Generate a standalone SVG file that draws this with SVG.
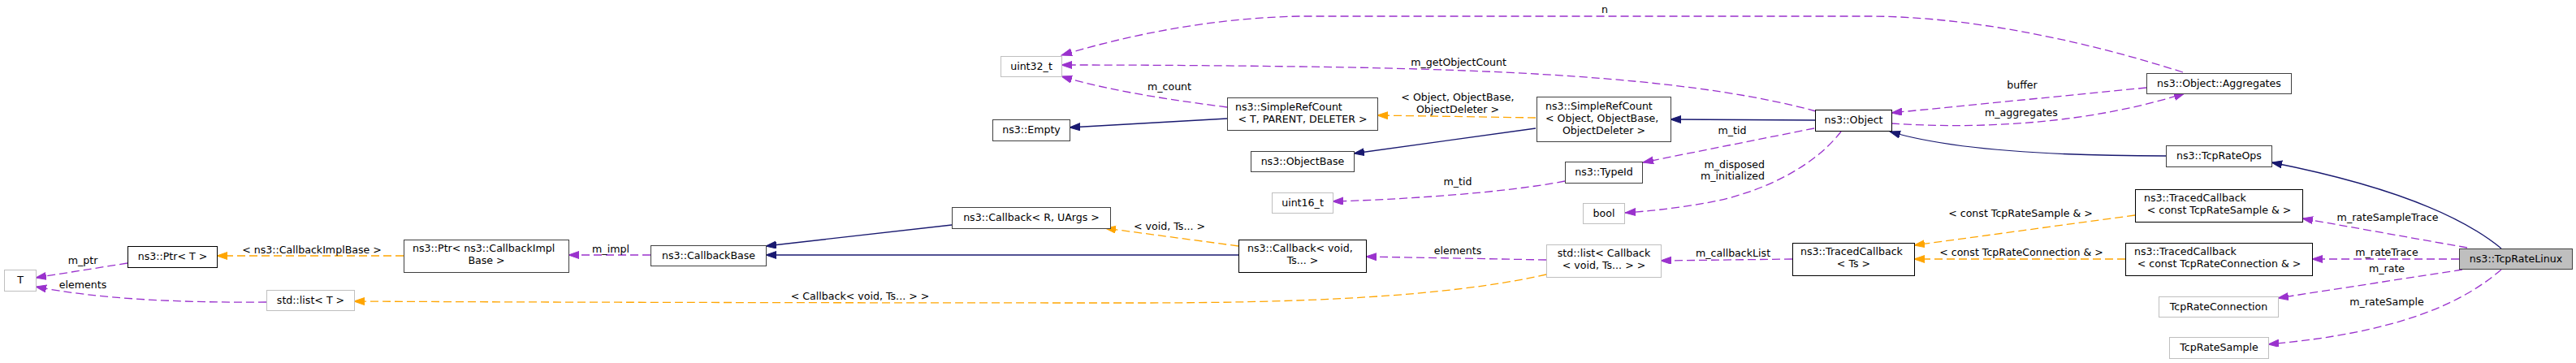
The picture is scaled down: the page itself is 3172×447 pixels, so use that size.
<svg xmlns="http://www.w3.org/2000/svg" width="3172" height="447" viewBox="0 0 3172 447">
<style>
text{font-family:"DejaVu Sans","Liberation Sans",sans-serif;font-size:12.6px;fill:#000}
.m{text-anchor:middle}
.e{text-anchor:end}
.n{fill:#fff;stroke:#000;stroke-width:1}
.g{fill:#fff;stroke:#404040;stroke-width:1}
.u{fill:#fff;stroke:#bfbfbf;stroke-width:1}
.s{fill:#bfbfbf;stroke:#404040;stroke-width:1}
.p{fill:none;stroke:#9a32cd;stroke-width:1.3;stroke-dasharray:10,5;marker-end:url(#ap)}
.o{fill:none;stroke:#ffa500;stroke-width:1.3;stroke-dasharray:10,5;marker-end:url(#ao)}
.b{fill:none;stroke:#191970;stroke-width:1.3;marker-end:url(#ab)}
</style>
<defs>
<marker id="ap" markerUnits="userSpaceOnUse" markerWidth="14" markerHeight="10" refX="13" refY="4.5" orient="auto"><path d="M0,0 L13,4.5 L0,9 z" fill="#9a32cd" stroke="#9a32cd"/></marker>
<marker id="ao" markerUnits="userSpaceOnUse" markerWidth="14" markerHeight="10" refX="13" refY="4.5" orient="auto"><path d="M0,0 L13,4.5 L0,9 z" fill="#ffa500" stroke="#ffa500"/></marker>
<marker id="ab" markerUnits="userSpaceOnUse" markerWidth="14" markerHeight="10" refX="13" refY="4.5" orient="auto"><path d="M0,0 L13,4.5 L0,9 z" fill="#191970" stroke="#191970"/></marker>
</defs>
<rect width="3172" height="447" fill="#fff"/>
<g id="edges">
<path class="p" d="M157,324 L44,342"/>
<text x="102" y="325" class="m">m_ptr</text>
<path class="p" d="M328,372 C220,373 120,368 44,353"/>
<text x="102" y="355" class="m">elements</text>
<path class="o" d="M497,315 L267,315"/>
<text x="384" y="312" class="m">&lt; ns3::CallbackImplBase &gt;</text>
<path class="o" d="M1904,338 C1780,366 1600,373 1400,373 C1000,373 600,372 436,371"/>
<text x="1059" y="369" class="m">&lt; Callback&lt; void, Ts... &gt; &gt;</text>
<path class="p" d="M801,314 L700,314"/>
<text x="752" y="311" class="m">m_impl</text>
<path class="b" d="M1172,277 L943,303"/>
<path class="b" d="M1525,314 L943,314"/>
<path class="o" d="M1525,303 L1361,281"/>
<text x="1440" y="283" class="m">&lt; void, Ts... &gt;</text>
<path class="b" d="M1511,146 L1317,157"/>
<path class="p" d="M1511,132 C1450,124 1370,113 1307,94"/>
<text x="1440" y="111" class="m">m_count</text>
<path class="p" d="M2236,137 C2100,100 1900,86 1600,82 C1450,80 1350,80 1307,80"/>
<text x="1796" y="81" class="m">m_getObjectCount</text>
<path class="p" d="M2688,89 C2560,48 2420,20 2300,20 L1600,20 C1500,22 1400,40 1307,68"/>
<text x="1976" y="16" class="m">n</text>
<path class="o" d="M1891,145 L1696,142"/>
<text x="1795" y="124" class="m">&lt; Object, ObjectBase,</text>
<text x="1795" y="139" class="m">ObjectDeleter &gt;</text>
<path class="b" d="M1891,158 L1667,189"/>
<path class="b" d="M2235,148 L2057,147"/>
<path class="p" d="M2234,158 L2023,200"/>
<text x="2133" y="165" class="m">m_tid</text>
<path class="p" d="M1927,223 C1850,238 1720,246 1641,248"/>
<text x="1795" y="228" class="m">m_tid</text>
<path class="p" d="M2267,162 C2230,210 2160,240 2100,250 C2060,257 2030,260 2001,262"/>
<text x="2173" y="207" class="e">m_disposed</text>
<text x="2173" y="221" class="e">m_initialized</text>
<path class="p" d="M1904,320 L1682,316"/>
<text x="1795" y="313" class="m">elements</text>
<path class="p" d="M2207,319 L2045,321"/>
<text x="2134" y="316" class="m">m_callbackList</text>
<path class="p" d="M2643,108 L2329,139"/>
<text x="2490" y="109" class="m">buffer</text>
<path class="p" d="M2329,152 C2450,160 2580,150 2690,115"/>
<text x="2489" y="143" class="m">m_aggregates</text>
<path class="b" d="M2667,192 C2520,192 2400,184 2327,162"/>
<path class="o" d="M2629,265 L2357,302"/>
<text x="2488" y="267" class="m">&lt; const TcpRateSample &amp; &gt;</text>
<path class="o" d="M2617,319 L2357,319"/>
<text x="2489" y="315" class="m">&lt; const TcpRateConnection &amp; &gt;</text>
<path class="b" d="M3080,306 Q3000,240 2797,200"/>
<path class="p" d="M3038,305 L2835,269"/>
<text x="2940" y="272" class="m">m_rateSampleTrace</text>
<path class="p" d="M3028,319 L2847,319"/>
<text x="2939" y="315" class="m">m_rateTrace</text>
<path class="p" d="M3032,332 L2805,367"/>
<text x="2939" y="335" class="m">m_rate</text>
<path class="p" d="M3080,332 C3030,375 2950,410 2793,424"/>
<text x="2939" y="376" class="m">m_rateSample</text>
</g>
<g id="node-T"><rect class="u" x="5.5" y="332.5" width="39" height="26"/><text x="25" y="349" class="m">T</text></g>
<g id="node-PtrT"><rect class="n" x="157.5" y="303.5" width="110" height="26"/><text x="212.5" y="320" class="m">ns3::Ptr&lt; T &gt;</text></g>
<g id="node-PtrCallbackImplBase"><rect class="g" x="497.5" y="295.5" width="203" height="40"/><text x="508" y="310" >ns3::Ptr&lt; ns3::CallbackImpl</text><text x="599" y="325" class="m">Base &gt;</text></g>
<g id="node-listT"><rect class="u" x="328.5" y="357.5" width="108" height="25"/><text x="382.5" y="374" class="m">std::list&lt; T &gt;</text></g>
<g id="node-CallbackBase"><rect class="g" x="801.5" y="302.5" width="142" height="25"/><text x="872.5" y="319" class="m">ns3::CallbackBase</text></g>
<g id="node-uint32"><rect class="u" x="1232.5" y="69.5" width="75" height="25"/><text x="1270" y="86" class="m">uint32_t</text></g>
<g id="node-Empty"><rect class="g" x="1222.5" y="147.5" width="95" height="26"/><text x="1270" y="164" class="m">ns3::Empty</text></g>
<g id="node-CallbackRUArgs"><rect class="g" x="1172.5" y="255.5" width="195" height="26"/><text x="1270" y="272" class="m">ns3::Callback&lt; R, UArgs &gt;</text></g>
<g id="node-SimpleRefCountT"><rect class="g" x="1511.5" y="120.5" width="185" height="40"/><text x="1521" y="136">ns3::SimpleRefCount</text><text x="1604" y="151" class="m">&lt; T, PARENT, DELETER &gt;</text></g>
<g id="node-ObjectBase"><rect class="g" x="1540.5" y="186.5" width="127" height="25"/><text x="1604" y="203" class="m">ns3::ObjectBase</text></g>
<g id="node-uint16"><rect class="u" x="1566.5" y="237.5" width="75" height="25"/><text x="1604" y="254" class="m">uint16_t</text></g>
<g id="node-CallbackVoid"><rect class="n" x="1525.5" y="295.5" width="157" height="40"/><text x="1536" y="310">ns3::Callback&lt; void,</text><text x="1604" y="325" class="m">Ts... &gt;</text></g>
<g id="node-SimpleRefCountObject"><rect class="g" x="1892.5" y="119.5" width="165" height="55"/><text x="1903" y="135">ns3::SimpleRefCount</text><text x="1903" y="150">&lt; Object, ObjectBase,</text><text x="1975" y="165" class="m">ObjectDeleter &gt;</text></g>
<g id="node-TypeId"><rect class="g" x="1927.5" y="199.5" width="95" height="26"/><text x="1975" y="216" class="m">ns3::TypeId</text></g>
<g id="node-bool"><rect class="u" x="1949.5" y="250.5" width="51" height="25"/><text x="1975" y="267" class="m">bool</text></g>
<g id="node-listCallback"><rect class="u" x="1904.5" y="301.5" width="141" height="40"/><text x="1975" y="316" class="m">std::list&lt; Callback</text><text x="1975" y="331" class="m">&lt; void, Ts... &gt; &gt;</text></g>
<g id="node-Object"><rect class="n" x="2235.5" y="135.5" width="94" height="26"/><text x="2282.5" y="152" class="m">ns3::Object</text></g>
<g id="node-TracedCallbackTs"><rect class="n" x="2207.5" y="299.5" width="150" height="40"/><text x="2217" y="314">ns3::TracedCallback</text><text x="2282.5" y="329" class="m">&lt; Ts &gt;</text></g>
<g id="node-Aggregates"><rect class="g" x="2643.5" y="90.5" width="178" height="25"/><text x="2732.5" y="107" class="m">ns3::Object::Aggregates</text></g>
<g id="node-TcpRateOps"><rect class="g" x="2667.5" y="179.5" width="130" height="26"/><text x="2732.5" y="196" class="m">ns3::TcpRateOps</text></g>
<g id="node-TracedCallbackSample"><rect class="n" x="2629.5" y="233.5" width="206" height="40"/><text x="2640" y="248">ns3::TracedCallback</text><text x="2732.5" y="263" class="m">&lt; const TcpRateSample &amp; &gt;</text></g>
<g id="node-TracedCallbackConnection"><rect class="n" x="2617.5" y="299.5" width="230" height="40"/><text x="2628" y="314">ns3::TracedCallback</text><text x="2732.5" y="329" class="m">&lt; const TcpRateConnection &amp; &gt;</text></g>
<g id="node-TcpRateConnection"><rect class="u" x="2658.5" y="365.5" width="147" height="25"/><text x="2732" y="382" class="m">TcpRateConnection</text></g>
<g id="node-TcpRateSample"><rect class="u" x="2671.5" y="415.5" width="122" height="26"/><text x="2732.5" y="432" class="m">TcpRateSample</text></g>
<g id="node-TcpRateLinux"><rect class="s" x="3028.5" y="306.5" width="139" height="25"/><text x="3098" y="323" class="m">ns3::TcpRateLinux</text></g>
</svg>
